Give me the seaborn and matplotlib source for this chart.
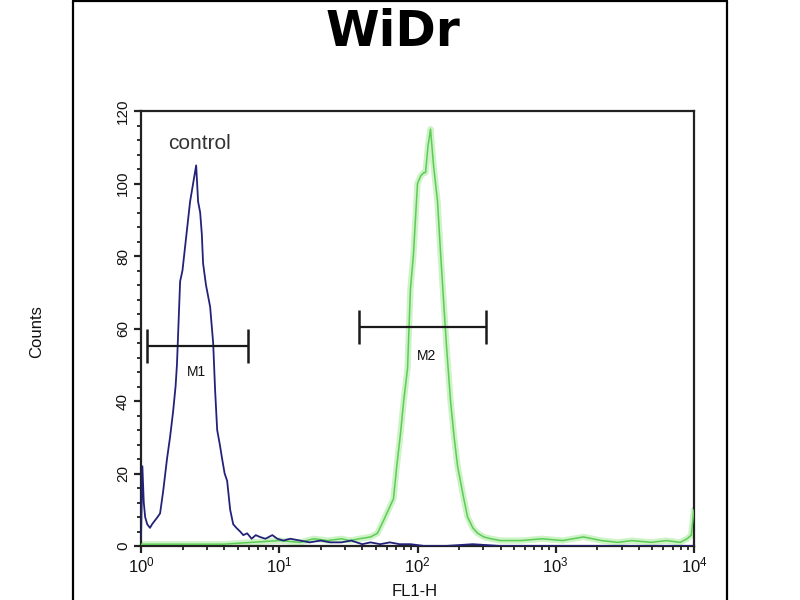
import numpy as np
import pandas as pd
import matplotlib
matplotlib.use("Agg")
import matplotlib.pyplot as plt
import matplotlib.ticker as mticker
from matplotlib.lines import Line2D
import seaborn as sns

# ---- data (log10 of FL1-H, counts) ----
control_log = [0.0, 0.01, 0.02, 0.03, 0.045, 0.065, 0.08, 0.10, 0.12, 0.138, 0.16, 0.188,
               0.21, 0.232, 0.25, 0.26, 0.283, 0.30, 0.326, 0.355, 0.377, 0.399, 0.413,
               0.428, 0.44, 0.449, 0.47, 0.5, 0.522, 0.536, 0.551, 0.57, 0.587, 0.605,
               0.623, 0.645, 0.667, 0.69, 0.717, 0.74, 0.768, 0.80, 0.83, 0.86, 0.90,
               0.95, 0.986, 1.03, 1.08, 1.15, 1.22, 1.30, 1.37, 1.45, 1.52, 1.60, 1.66,
               1.73, 1.80, 1.87, 1.95, 2.05, 2.2, 2.4, 2.6, 2.8, 3.0, 3.3, 3.6, 3.9, 4.0]
control_counts = [2, 22, 12, 8, 6, 5, 6, 7, 8, 9, 15, 24,
                  30, 37, 44, 50, 73, 76, 85, 95, 100, 105, 95,
                  92, 86, 78, 72, 66, 56, 43, 32, 28, 24, 20,
                  18, 10, 6, 5, 4, 3, 3.5, 2, 3, 2.5, 2,
                  3, 2, 1.5, 2, 1.5, 1, 1.5, 1, 1, 1.5, 0.5, 1,
                  0.5, 1, 0.5, 0.5, 0, 0, 0.5, 0, 0, 0, 0, 0, 0, 0]

sample_log = [0.0, 0.2, 0.4, 0.6, 0.8, 1.0, 1.15, 1.25, 1.35, 1.45, 1.51, 1.58,
              1.66, 1.71, 1.754, 1.79, 1.826, 1.85, 1.877, 1.90, 1.928, 1.949, 1.97,
              2.0, 2.022, 2.045, 2.058, 2.075, 2.094, 2.116, 2.145, 2.165, 2.188,
              2.21, 2.239, 2.265, 2.29, 2.33, 2.362, 2.40, 2.435, 2.48, 2.53, 2.6,
              2.75, 2.9, 3.05, 3.2, 3.33, 3.45, 3.55, 3.69, 3.8, 3.9, 3.95, 3.98, 4.0]
sample_counts = [0.5, 0.5, 0.5, 0.5, 1, 1.5, 1, 2, 1.5, 2, 1.5, 2,
                 2.5, 3.5, 7, 10, 13, 22, 31, 40, 49, 71, 80,
                 100, 102, 103, 103, 110, 115, 105, 95, 82, 68,
                 55, 40, 30, 22, 14, 8, 5, 3.5, 2.5, 2, 1.5,
                 1.5, 2, 1.5, 2.5, 1.5, 1, 1.5, 1, 1.5, 1, 2, 3, 10]

markers = ["M1", "M2"]
marker_lo = [1.10, 37.6]
marker_hi = [5.98, 311.0]
marker_y = [55.3, 60.5]
marker_label_x = [2.5, 116.0]
marker_label_y = [48.0, 52.5]

title = "WiDr"
x_label = "FL1-H"
y_label = "Counts"
y_ticks = [0, 20, 40, 60, 80, 100, 120]
x_ticks = [1, 10, 100, 1000, 10000]
x_ticklabels = ["$10^0$", "$10^1$", "$10^2$", "$10^3$", "$10^4$"]

control_df = pd.DataFrame({"fl1": 10 ** np.array(control_log), "counts": control_counts})
sample_df = pd.DataFrame({"fl1": 10 ** np.array(sample_log), "counts": sample_counts})

sns.set_theme(style="white")
plt.rcParams["font.family"] = ["Liberation Sans", "DejaVu Sans"]
plt.rcParams["mathtext.fontset"] = "custom"
plt.rcParams["mathtext.rm"] = "Liberation Sans"
plt.rcParams["mathtext.it"] = "Liberation Sans"

fig = plt.figure(figsize=(8, 6), dpi=100)
ax = fig.add_axes([141 / 800, 1 - 546 / 600, 553 / 800, 435 / 600])

# green glow then green line
sns.lineplot(data=sample_df, x="fl1", y="counts", ax=ax, color="#cdf3c6",
             linewidth=4.5, estimator=None, sort=False, zorder=2)
sns.lineplot(data=sample_df, x="fl1", y="counts", ax=ax, color="#5ccc56",
             linewidth=1.1, estimator=None, sort=False, zorder=3)
sns.lineplot(data=control_df, x="fl1", y="counts", ax=ax, color="#22227a",
             linewidth=1.3, estimator=None, sort=False, zorder=4)

ax.set_xscale("log")
ax.set_xlim(1, 10000)
ax.set_ylim(0, 120)

# marker bars
for name, lo, hi, yv, lx, ly in zip(markers, marker_lo, marker_hi, marker_y,
                                    marker_label_x, marker_label_y):
    ax.hlines(yv, lo, hi, color="#1a1a1a", linewidth=1.6, zorder=5)
    ax.vlines([lo, hi], yv - 4.7, yv + 4.7, color="#1a1a1a", linewidth=1.8, zorder=5)
    ax.text(lx, ly, name, ha="center", va="center", fontsize=10, color="#111111",
            zorder=6)

ax.text(2.65, 111, "control", ha="center", va="center", fontsize=15, color="#333333")

ax.set_yticks(y_ticks)
ax.set_yticklabels([str(v) for v in y_ticks], rotation=90, va="center", fontsize=11)
ax.yaxis.set_minor_locator(mticker.MultipleLocator(4))
ax.set_xticks(x_ticks)
ax.set_xticklabels(x_ticklabels, fontsize=12)
ax.xaxis.set_minor_locator(mticker.LogLocator(base=10, subs=np.arange(2, 10)))
ax.xaxis.set_minor_formatter(mticker.NullFormatter())
ax.tick_params(axis="both", which="both", bottom=True, left=True, top=False, right=False)
ax.tick_params(axis="both", which="major", direction="out", length=5, width=1.6,
               color="#222222", labelcolor="#111111")
ax.tick_params(axis="both", which="minor", direction="out", length=3, width=1.3,
               color="#222222")
ax.tick_params(axis="x", which="major", pad=2)
ax.tick_params(axis="y", which="major", pad=3)
ax.set_xlabel("")
ax.set_ylabel("")
for s in ax.spines.values():
    s.set_color("#222222")
    s.set_linewidth(1.6)

fig.text(393 / 800, 1 - 32 / 600, title, ha="center", va="center", fontsize=35,
         fontweight="bold", color="black", family=["DejaVu Sans"])
fig.text(415 / 800, 1 - 591 / 600, x_label, ha="center", va="center", fontsize=12,
         color="#111111")
fig.text(37 / 800, 1 - 332 / 600, y_label, ha="center", va="center", fontsize=12,
         rotation=90, color="#111111")

# outer frame
fig.add_artist(Line2D([73 / 800, 73 / 800], [0, 1 - 1 / 600], transform=fig.transFigure,
                      color="black", linewidth=1.6))
fig.add_artist(Line2D([727 / 800, 727 / 800], [0, 1 - 1 / 600], transform=fig.transFigure,
                      color="black", linewidth=1.6))
fig.add_artist(Line2D([73 / 800, 727 / 800], [1 - 1 / 600, 1 - 1 / 600],
                      transform=fig.transFigure, color="black", linewidth=1.6))

fig.savefig("out.png", dpi=100, facecolor="white")
